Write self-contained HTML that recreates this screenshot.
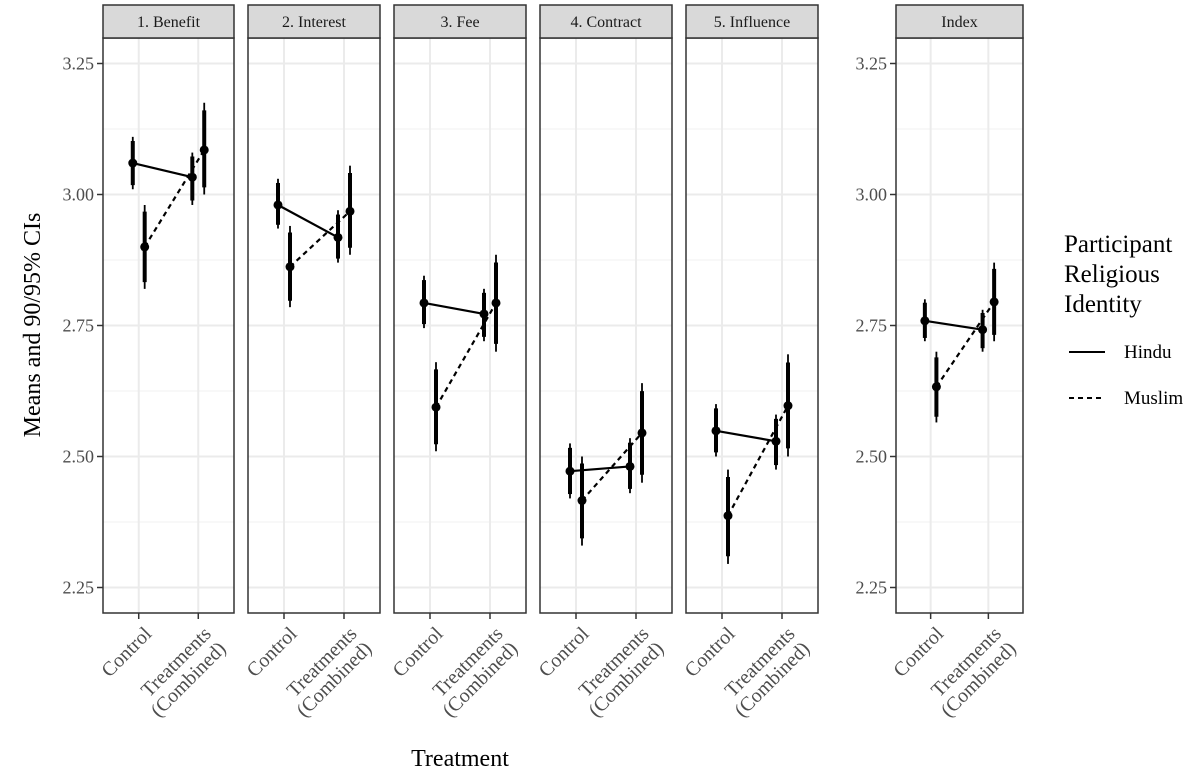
<!DOCTYPE html>
<html><head><meta charset="utf-8"><style>
body{margin:0;background:#fff;}
svg{display:block;font-family:"Liberation Serif",serif;}
</style></head><body>
<svg id="chart" width="1200" height="778" viewBox="0 0 1200 778" xmlns="http://www.w3.org/2000/svg">
<g id="panels"></g>
<text x="40" y="325" font-size="24" text-anchor="middle" transform="rotate(-90 40 325)">Means and 90/95% CIs</text>
<text x="460" y="766" font-size="24" text-anchor="middle">Treatment</text>
<g>
<text font-size="25" x="1064" y="252">Participant</text>
<text font-size="25" x="1064" y="282">Religious</text>
<text font-size="25" x="1064" y="312">Identity</text>
<line x1="1069" y1="352" x2="1105" y2="352" stroke="#000" stroke-width="2"/>
<text font-size="19" x="1124" y="358">Hindu</text>
<line x1="1069" y1="398" x2="1105" y2="398" stroke="#000" stroke-width="2" stroke-dasharray="5,4"/>
<text font-size="19" x="1124" y="404">Muslim</text>
</g>
</svg>
<script>
const panelNames = ["1. Benefit","2. Interest","3. Fee","4. Contract","5. Influence","Index"];
const categories = ["Control","Treatments (Combined)"];
const yTicks = [2.25,2.5,2.75,3.0,3.25];
const yTickLabels = ["2.25","2.50","2.75","3.00","3.25"];
// [control, treatment] per panel
const hinduMean = [[3.06,3.033],[2.98,2.918],[2.793,2.772],[2.472,2.481],[2.549,2.529],[2.759,2.742]];
const hinduLo95 = [[3.01,2.98],[2.935,2.87],[2.745,2.72],[2.42,2.43],[2.50,2.475],[2.72,2.70]];
const hinduHi95 = [[3.11,3.08],[3.03,2.97],[2.845,2.82],[2.525,2.535],[2.60,2.58],[2.80,2.78]];
const muslimMean = [[2.90,3.085],[2.862,2.968],[2.594,2.793],[2.416,2.545],[2.387,2.597],[2.633,2.795]];
const muslimLo95 = [[2.82,3.0],[2.785,2.885],[2.51,2.70],[2.33,2.45],[2.295,2.50],[2.565,2.72]];
const muslimHi95 = [[2.98,3.175],[2.94,3.055],[2.68,2.885],[2.50,2.64],[2.475,2.695],[2.70,2.87]];

const NS="http://www.w3.org/2000/svg";
const panelLeft=[103,248,394,540,686,896], panelRight=[234,380,526,672,818,1023];
const plotTop=38, plotBottom=613, stripTop=5;
function yScale(v){return 63.5+(3.25-v)*524;}
function xScale(p,i,off){const l=panelLeft[p],w=panelRight[p]-l;return l+((i+1+off)-0.4)/2.2*w;}
function mk(tag,attrs,parent){const e=document.createElementNS(NS,tag);for(const k in attrs)e.setAttribute(k,attrs[k]);parent.appendChild(e);return e;}
const root=document.getElementById('panels');
panelNames.forEach((name,p)=>{
  const g=mk('g',{},root);
  
  
  const l=panelLeft[p],r=panelRight[p];
  mk('rect',{x:l,y:plotTop,width:r-l,height:plotBottom-plotTop,fill:'#fff'},g);
  for(let k=0;k<yTicks.length-1;k++){const y=yScale((yTicks[k]+yTicks[k+1])/2);mk('line',{x1:l,x2:r,y1:y,y2:y,stroke:'#f0f0f0','stroke-width':1},g);}
  yTicks.forEach(t=>{const y=yScale(t);mk('line',{x1:l,x2:r,y1:y,y2:y,stroke:'#ebebeb','stroke-width':2},g);});
  categories.forEach((c,i)=>{const x=xScale(p,i,0);mk('line',{x1:x,x2:x,y1:plotTop,y2:plotBottom,stroke:'#ebebeb','stroke-width':2},g);});
  const series=[{m:hinduMean,lo:hinduLo95,hi:hinduHi95,off:-0.1,dash:null,n:'hindu'},{m:muslimMean,lo:muslimLo95,hi:muslimHi95,off:0.1,dash:'5,4',n:'muslim'}];
  series.forEach(s=>{
    const ln=mk('line',{x1:xScale(p,0,s.off),y1:yScale(s.m[p][0]),x2:xScale(p,1,s.off),y2:yScale(s.m[p][1]),stroke:'#000','stroke-width':2.2},g);
    if(s.dash)ln.setAttribute('stroke-dasharray',s.dash);
    
    
    [0,1].forEach(i=>{
      const x=xScale(p,i,s.off),m=s.m[p][i],lo=s.lo[p][i],hi=s.hi[p][i];
      const lo90=m-(m-lo)*0.84,hi90=m+(hi-m)*0.84;
      const e1=mk('line',{x1:x,x2:x,y1:yScale(lo),y2:yScale(hi),stroke:'#000','stroke-width':1.8},g);
      
      
      const e2=mk('line',{x1:x,x2:x,y1:yScale(lo90),y2:yScale(hi90),stroke:'#000','stroke-width':4},g);
      
      
      const pt=mk('circle',{cx:x,cy:yScale(m),r:4.5,fill:'#000'},g);
      
      
    });
  });
  mk('rect',{x:l,y:plotTop,width:r-l,height:plotBottom-plotTop,fill:'none',stroke:'#333','stroke-width':1.5},g);
  const st=mk('rect',{x:l,y:stripTop,width:r-l,height:plotTop-stripTop,fill:'#d9d9d9',stroke:'#333','stroke-width':1.5},g);
  
  
  const tx=mk('text',{x:(l+r)/2,y:27,'font-size':16,'text-anchor':'middle',fill:'#1a1a1a'},g);
  tx.textContent=name;
  
  
  categories.forEach((c,i)=>{
    const x=xScale(p,i,0);
    mk('line',{x1:x,x2:x,y1:plotBottom,y2:plotBottom+6,stroke:'#333','stroke-width':1.5},g);
    const t=mk('text',{'font-size':20,fill:'#4d4d4d','text-anchor':'end',transform:`translate(${x+4},${plotBottom+12}) rotate(-45)`},g);
    
    
    const parts=c==="Control"?["Control"]:["Treatments","(Combined)"];
    parts.forEach((pt,j)=>{const ts=mk('tspan',{x:0,dy:j===0?14:21},t);ts.textContent=pt;});
  });
  if(p===0||p===5){
    yTicks.forEach((t,k)=>{
      const y=yScale(t);
      mk('line',{x1:l-6,x2:l,y1:y,y2:y,stroke:'#333','stroke-width':1.5},g);
      const tl=mk('text',{x:l-9,y:y+6,'font-size':18,fill:'#4d4d4d','text-anchor':'end'},g);
      tl.textContent=yTickLabels[k];
      
      
    });
  }
});
</script>
</body></html>
